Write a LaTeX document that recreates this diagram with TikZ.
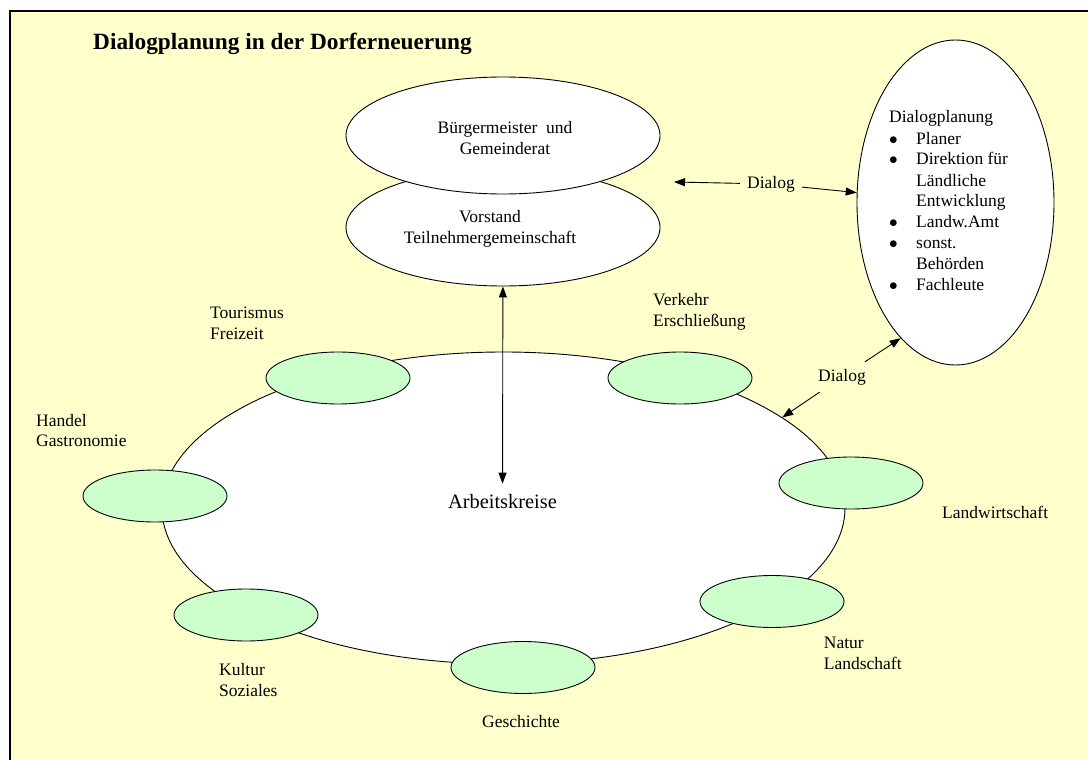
\documentclass[tikz,border=0pt]{standalone}
\usepackage{fontspec}
\setmainfont{Liberation Serif}
\usetikzlibrary{shapes.geometric,arrows.meta}
\definecolor{bgyellow}{HTML}{FFFFCC}
\definecolor{akgreen}{HTML}{CCFFCC}
\begin{document}
\begin{tikzpicture}
        [x=1pt,y=-1pt,
        oval/.style={ellipse, draw=black, line width=0.9pt, fill=white, inner sep=0pt},
        grp/.style={oval, fill=akgreen, minimum width=144, minimum height=52},
        txt/.style={font=\fontsize{17.5}{20.7}\selectfont, inner sep=0pt},
        lbl/.style={txt, anchor=west, align=left},
        dlg/.style={txt, inner sep=7pt},
        tip/.style={-{Triangle[length=11pt,width=8pt]}, line width=0.9pt},
        dbl/.style={{Triangle[length=11pt,width=8pt]}-{Triangle[length=11pt,width=8pt]}, line width=0.9pt}]
        \useasboundingbox (0,0) rectangle (1088,760);
        \draw[line width=2pt, fill=bgyellow] (9.5,11.5) rectangle (1100,780);
        \node[txt, anchor=base west, font=\fontsize{23.3}{28}\selectfont\bfseries] (title) at (93,50) {Dialogplanung in der Dorferneuerung};
        \node[oval, minimum width=683, minimum height=312] (ak) at (503.5,508) {};
        \node[txt, anchor=base, inner sep=10pt, font=\fontsize{20.4}{24}\selectfont] (akt) at (502.5,508) {Arbeitskreise};
        \node[grp] (tour) at (338,378) {};
        \node[grp] (verk) at (680,378) {};
        \node[grp] (hand) at (155,496) {};
        \node[grp] (landw) at (851,483) {};
        \node[grp] (kult) at (246,615) {};
        \node[grp] (natur) at (772,601.5) {};
        \node[grp] (gesch) at (523,667.5) {};
        \node[lbl] (tourt) at (210,323) {Tourismus\\Freizeit};
        \node[lbl] (verkt) at (653,312) {Verkehr\\Erschließung};
        \node[lbl] (handt) at (36,430.5) {Handel\\Gastronomie};
        \node[lbl] (landwt) at (942,512.7) {Landwirtschaft};
        \node[lbl] (kultt) at (219,680) {Kultur\\Soziales};
        \node[lbl] (naturt) at (823.7,653.5) {Natur\\Landschaft};
        \node[lbl] (gescht) at (482,721.7) {Geschichte};
        \node[oval, minimum width=314, minimum height=117] (vt) at (503,227.5) {};
        \node[oval, minimum width=314, minimum height=117] (bm) at (503,135.5) {};
        \node[txt, align=center] (bmt) at (505,138) {Bürgermeister\ \ und\\Gemeinderat};
        \node[txt, align=center] (vtt) at (490,229) {Vorstand\\Teilnehmergemeinschaft};
        \node[oval, minimum width=197, minimum height=325] (dp) at (955.5,202.5) {};
        \node[txt, anchor=base west, font=\fontsize{17.5}{21}\selectfont] (dpt) at (889,123) {%
            \begin{tabular}[t]{@{}p{27pt}@{}l@{}}
            \multicolumn{2}{@{}l@{}}{Dialogplanung}\\
            $\bullet$ & Planer\\
            $\bullet$ & Direktion für\\
                      & Ländliche\\
                      & Entwicklung\\
            $\bullet$ & Landw.Amt\\
            $\bullet$ & sonst.\\
                      & Behörden\\
            $\bullet$ & Fachleute
            \end{tabular}};
        \coordinate (dlgend) at (674,182);
        \node[dlg] (dlg1) at (771,184) {Dialog}
            edge[tip] (dlgend)
            edge[tip] (dp);
        \node[dlg] (dlg2) at (842,377) {Dialog}
            edge[tip] (dp.248)
            edge[tip] (ak.18);
        \draw[dbl] (vt) -- (akt);
    \end{tikzpicture}
\end{document}
